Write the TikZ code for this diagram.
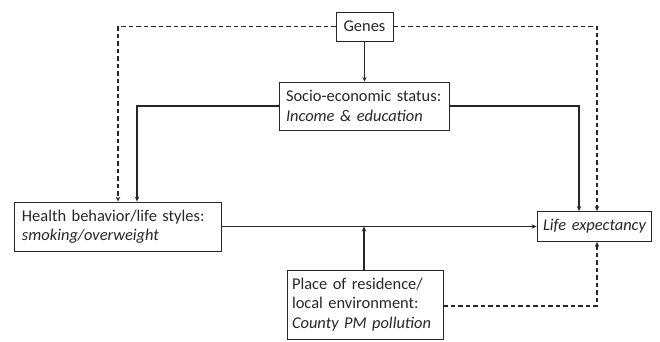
\documentclass[tikz,border=0pt]{standalone}
\usepackage{fontspec}
\setmainfont{Carlito}
\usetikzlibrary{arrows.meta,calc}
\definecolor{ink}{HTML}{262626}
\tikzset{
  box/.style={draw=ink, line width=0.9bp, inner sep=0pt, align=left, text=ink,
    font=\fontsize{16.5}{19.5}\selectfont},
  conn/.style={draw=ink, line width=1.2bp, -{Stealth[length=5bp,width=4.5bp]}},
  dconn/.style={conn, dash pattern=on 4.5bp off 3bp},
  thin/.style={draw=ink, line width=0.6bp, -{Stealth[length=4.5bp,width=4bp]}}
}
\begin{document}
\begin{tikzpicture}[x=1bp,y=-1bp]
\useasboundingbox (0,0) rectangle (660,341);
\node[box, minimum width=57bp, minimum height=29bp, align=center] (genes) at (364.5,26.5) {Genes};
\node[box, minimum width=170bp, minimum height=48bp, text width=156bp] (ses) at (364,106) {Socio-economic status:\\\textit{Income \& education}};
\node[box, minimum width=207bp, minimum height=49bp, text width=191bp] (health) at (117.5,226.5) {Health behavior/life styles:\\\textit{smoking/overweight}};
\node[box, minimum width=114bp, minimum height=30bp, text width=102bp] (life) at (594,226.5) {\mbox{\textit{Life expectancy}}};
\node[box, minimum width=156bp, minimum height=69bp, text width=146bp] (place) at (365,304.5) {Place of residence/\\local environment:\\\textit{County PM pollution}};
\coordinate (dl) at (118,0);
\coordinate (sl) at (137,0);
\coordinate (dr) at (597,0);
\coordinate (sr) at (579,0);
\coordinate (px) at (364,0);
\coordinate (py) at (0,306);
% Genes
\draw[dconn] (genes.west) -| (dl |- health.north);
\draw[dconn] (genes.east) -| (dr |- life.north);
\draw[thin] (genes.south) -- (genes.south |- ses.north);
% SES
\draw[conn] (ses.west) -| (sl |- health.north);
\draw[conn] (ses.east) -| (sr |- life.north);
% main
\draw[conn] (health.east) -- (life.west);
\coordinate (join) at (px |- health.east);
\draw[conn] (px |- place.north) -- (join);
\draw[dconn] (place.east |- py) -| (dr |- life.south);
\end{tikzpicture}
\end{document}
